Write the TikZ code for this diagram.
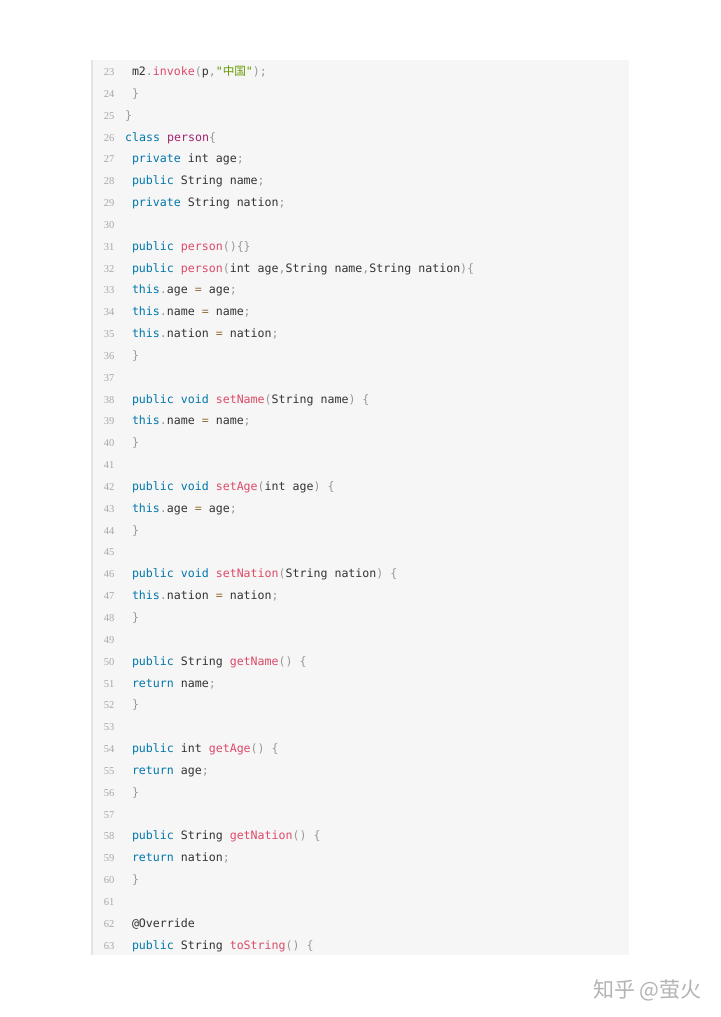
\documentclass[tikz,border=0pt]{standalone}
\usepackage{fontspec}
\setmonofont{DejaVu Sans Mono}
\newfontfamily\cjk{Noto Sans CJK SC}
\newfontfamily\numfont{Liberation Serif}
\definecolor{codebg}{HTML}{F6F6F6}
\definecolor{codeedge}{HTML}{E4E4E4}
\definecolor{kw}{HTML}{0077AA}
\definecolor{fn}{HTML}{DD4A68}
\definecolor{cl}{HTML}{A0226E}
\definecolor{st}{HTML}{669900}
\definecolor{op}{HTML}{9A6E3A}
\definecolor{pu}{HTML}{999999}
\definecolor{tx}{HTML}{333333}
\definecolor{ln}{HTML}{A8A8A8}
\definecolor{wm}{HTML}{B4B4B4}
\newcommand\ckw[1]{\textcolor{kw}{#1}}
\newcommand\cfn[1]{\textcolor{fn}{#1}}
\newcommand\ccl[1]{\textcolor{cl}{#1}}
\newcommand\cst[1]{\textcolor{st}{#1}}
\newcommand\cop[1]{\textcolor{op}{#1}}
\newcommand\cpu[1]{\textcolor{pu}{#1}}
\begin{document}
\begin{tikzpicture}[x=1pt,y=-1pt,
  codeline/.style={anchor=base west,inner sep=0pt,text=tx,font=\ttfamily\fontsize{11.6}{13}\selectfont},
  lnum/.style={anchor=base east,inner sep=0pt,text=ln,font=\numfont\fontsize{10.5}{12}\selectfont},
  wmark/.style={anchor=base east,inner sep=0pt,text=wm,font=\cjk\fontsize{21}{24}\selectfont}]
\useasboundingbox (0,0) rectangle (720,1017);
\fill[white] (0,0) rectangle (720,1017);
\fill[codebg] (91,60) rectangle (629,955);
\fill[codeedge] (91,60) rectangle (92.5,955);
% line numbers
\foreach \n in {23,...,63}{
  \node[lnum] (n\n) at (114.5,{75.5+(\n-23)*21.84}) {\n};
}
\def\ya#1{{75.5+(#1-23)*21.84}}
\def\xi{131.8}
\def\xo{125}
\node[codeline] (l23) at (\xi,\ya{23}) {m2\cpu{.}\cfn{invoke}\cpu{(}p\cpu{,}\cst{"{\cjk 中国}"}\cpu{);}};
\node[codeline] (l24) at (\xi,\ya{24}) {\cpu{\}}};
\node[codeline] (l25) at (\xo,\ya{25}) {\cpu{\}}};
\node[codeline] (l26) at (\xo,\ya{26}) {\ckw{class} \ccl{person}\cpu{\{}};
\node[codeline] (l27) at (\xi,\ya{27}) {\ckw{private} int age\cpu{;}};
\node[codeline] (l28) at (\xi,\ya{28}) {\ckw{public} String name\cpu{;}};
\node[codeline] (l29) at (\xi,\ya{29}) {\ckw{private} String nation\cpu{;}};
\node[codeline] (l31) at (\xi,\ya{31}) {\ckw{public} \cfn{person}\cpu{()\{\}}};
\node[codeline] (l32) at (\xi,\ya{32}) {\ckw{public} \cfn{person}\cpu{(}int age\cpu{,}String name\cpu{,}String nation\cpu{)\{}};
\node[codeline] (l33) at (\xi,\ya{33}) {\ckw{this}\cpu{.}age \cop{=} age\cpu{;}};
\node[codeline] (l34) at (\xi,\ya{34}) {\ckw{this}\cpu{.}name \cop{=} name\cpu{;}};
\node[codeline] (l35) at (\xi,\ya{35}) {\ckw{this}\cpu{.}nation \cop{=} nation\cpu{;}};
\node[codeline] (l36) at (\xi,\ya{36}) {\cpu{\}}};
\node[codeline] (l38) at (\xi,\ya{38}) {\ckw{public} \ckw{void} \cfn{setName}\cpu{(}String name\cpu{)} \cpu{\{}};
\node[codeline] (l39) at (\xi,\ya{39}) {\ckw{this}\cpu{.}name \cop{=} name\cpu{;}};
\node[codeline] (l40) at (\xi,\ya{40}) {\cpu{\}}};
\node[codeline] (l42) at (\xi,\ya{42}) {\ckw{public} \ckw{void} \cfn{setAge}\cpu{(}int age\cpu{)} \cpu{\{}};
\node[codeline] (l43) at (\xi,\ya{43}) {\ckw{this}\cpu{.}age \cop{=} age\cpu{;}};
\node[codeline] (l44) at (\xi,\ya{44}) {\cpu{\}}};
\node[codeline] (l46) at (\xi,\ya{46}) {\ckw{public} \ckw{void} \cfn{setNation}\cpu{(}String nation\cpu{)} \cpu{\{}};
\node[codeline] (l47) at (\xi,\ya{47}) {\ckw{this}\cpu{.}nation \cop{=} nation\cpu{;}};
\node[codeline] (l48) at (\xi,\ya{48}) {\cpu{\}}};
\node[codeline] (l50) at (\xi,\ya{50}) {\ckw{public} String \cfn{getName}\cpu{()} \cpu{\{}};
\node[codeline] (l51) at (\xi,\ya{51}) {\ckw{return} name\cpu{;}};
\node[codeline] (l52) at (\xi,\ya{52}) {\cpu{\}}};
\node[codeline] (l54) at (\xi,\ya{54}) {\ckw{public} int \cfn{getAge}\cpu{()} \cpu{\{}};
\node[codeline] (l55) at (\xi,\ya{55}) {\ckw{return} age\cpu{;}};
\node[codeline] (l56) at (\xi,\ya{56}) {\cpu{\}}};
\node[codeline] (l58) at (\xi,\ya{58}) {\ckw{public} String \cfn{getNation}\cpu{()} \cpu{\{}};
\node[codeline] (l59) at (\xi,\ya{59}) {\ckw{return} nation\cpu{;}};
\node[codeline] (l60) at (\xi,\ya{60}) {\cpu{\}}};
\node[codeline] (l62) at (\xi,\ya{62}) {@Override};
\node[codeline] (l63) at (\xi,\ya{63}) {\ckw{public} String \cfn{toString}\cpu{()} \cpu{\{}};
% watermark
\node[wmark] (wm) at (702,997) {知乎 @萤火};
\end{tikzpicture}
\end{document}
